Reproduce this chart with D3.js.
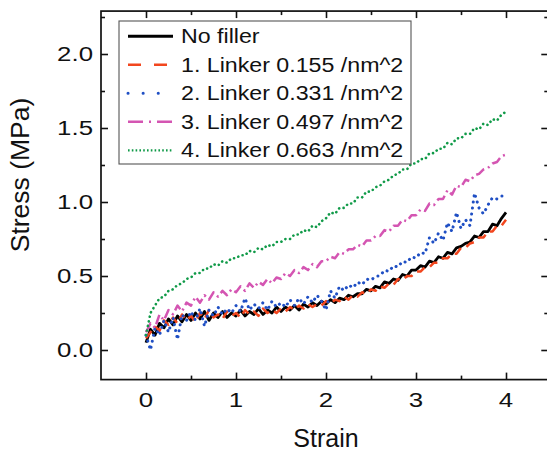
<!DOCTYPE html>
<html><head><meta charset="utf-8">
<script src="https://cdn.jsdelivr.net/npm/d3@7"></script>
<style>
body{margin:0;background:#fff}
svg{display:block}
text{font-family:"Liberation Sans",Arial,Helvetica,sans-serif;fill:#111}
</style>
</head><body>
<svg id="c" width="547" height="450"></svg>
<script>
// ---------------- data ----------------
const strain = [0.00,0.05,0.10,0.15,0.20,0.25,0.30,0.35,0.40,0.45,
  0.50,0.55,0.60,0.65,0.70,0.75,0.80,0.85,0.90,0.95,
  1.00,1.05,1.10,1.15,1.20,1.25,1.30,1.35,1.40,1.45,
  1.50,1.55,1.60,1.65,1.70,1.75,1.80,1.85,1.90,1.95,
  2.00,2.05,2.10,2.15,2.20,2.25,2.30,2.35,2.40,2.45,
  2.50,2.55,2.60,2.65,2.70,2.75,2.80,2.85,2.90,2.95,
  3.00,3.05,3.10,3.15,3.20,3.25,3.30,3.35,3.40,3.45,
  3.50,3.55,3.60,3.65,3.70,3.75,3.80,3.85,3.90,3.95,
  4.00];

const noFiller = [0.05,0.14,0.10,0.18,0.15,0.21,0.17,0.23,0.19,0.24,
  0.20,0.25,0.21,0.26,0.20,0.25,0.22,0.26,0.22,0.25,
  0.23,0.27,0.23,0.26,0.24,0.28,0.24,0.27,0.25,0.29,
  0.26,0.29,0.27,0.30,0.27,0.31,0.29,0.32,0.30,0.33,
  0.31,0.34,0.32,0.35,0.34,0.37,0.36,0.38,0.38,0.41,
  0.40,0.43,0.42,0.46,0.45,0.48,0.47,0.51,0.50,0.54,
  0.54,0.57,0.56,0.60,0.59,0.63,0.62,0.66,0.65,0.69,
  0.70,0.72,0.73,0.77,0.76,0.80,0.80,0.85,0.84,0.89,
  0.93];

const linker155 = [0.08,0.12,0.16,0.13,0.20,0.17,0.22,0.18,0.24,0.20,
  0.23,0.19,0.25,0.21,0.27,0.22,0.24,0.21,0.26,0.23,
  0.25,0.22,0.27,0.24,0.26,0.23,0.28,0.25,0.27,0.25,
  0.28,0.26,0.29,0.27,0.30,0.28,0.31,0.29,0.31,0.30,
  0.33,0.31,0.34,0.33,0.36,0.34,0.37,0.36,0.39,0.38,
  0.41,0.40,0.43,0.42,0.45,0.44,0.48,0.47,0.50,0.50,
  0.53,0.53,0.56,0.56,0.59,0.59,0.62,0.62,0.65,0.65,
  0.69,0.69,0.72,0.73,0.76,0.76,0.80,0.80,0.84,0.84,
  0.88];

const linker331 = [0.10,0.00,0.15,0.10,0.20,0.12,0.22,0.07,0.24,0.20,
  0.26,0.20,0.28,0.16,0.27,0.23,0.29,0.24,0.28,0.25,
  0.30,0.26,0.35,0.27,0.31,0.28,0.32,0.27,0.33,0.29,
  0.32,0.29,0.34,0.30,0.35,0.31,0.36,0.32,0.37,0.33,
  0.27,0.40,0.35,0.43,0.40,0.44,0.42,0.46,0.44,0.48,
  0.47,0.50,0.50,0.54,0.53,0.57,0.56,0.60,0.59,0.63,
  0.62,0.66,0.65,0.76,0.72,0.79,0.74,0.86,0.80,0.93,
  0.82,0.88,0.84,1.06,0.96,0.92,0.98,1.03,1.02,1.04,
  1.04];

const linker497 = [0.12,0.18,0.15,0.24,0.20,0.27,0.24,0.30,0.26,0.32,
  0.30,0.36,0.32,0.37,0.34,0.39,0.36,0.40,0.37,0.41,
  0.39,0.43,0.40,0.45,0.42,0.46,0.44,0.48,0.45,0.49,
  0.48,0.52,0.50,0.54,0.52,0.56,0.54,0.58,0.56,0.60,
  0.60,0.63,0.62,0.66,0.65,0.68,0.68,0.71,0.70,0.74,
  0.74,0.77,0.77,0.81,0.80,0.84,0.84,0.88,0.87,0.91,
  0.91,0.95,0.94,0.99,0.98,1.02,1.02,1.08,1.05,1.11,
  1.10,1.15,1.14,1.18,1.19,1.22,1.23,1.26,1.27,1.31,
  1.32];

const linker663 = [0.10,0.25,0.30,0.35,0.36,0.40,0.41,0.44,0.45,0.48,
  0.49,0.52,0.52,0.55,0.55,0.58,0.57,0.60,0.59,0.62,
  0.62,0.64,0.64,0.67,0.66,0.69,0.68,0.71,0.70,0.73,
  0.73,0.75,0.75,0.78,0.78,0.81,0.80,0.84,0.83,0.87,
  0.89,0.93,0.92,0.96,0.96,0.99,0.99,1.03,1.03,1.07,
  1.07,1.10,1.11,1.14,1.15,1.18,1.19,1.22,1.22,1.26,
  1.26,1.29,1.29,1.33,1.33,1.36,1.36,1.40,1.39,1.43,
  1.43,1.46,1.46,1.50,1.49,1.53,1.52,1.56,1.55,1.59,
  1.61];

const seriesNames = ["No filler","1. Linker 0.155 /nm^2","2. Linker 0.331 /nm^2","3. Linker 0.497 /nm^2","4. Linker 0.663 /nm^2"];
const seriesValues = [noFiller, linker155, linker331, linker497, linker663];

const xTicks = [0,1,2,3,4];
const xTickLabels = ["0","1","2","3","4"];
const xMinorTicks = [0.5,1.5,2.5,3.5];
const yTicks = [0.0,0.5,1.0,1.5,2.0];
const yTickLabels = ["0.0","0.5","1.0","1.5","2.0"];
const yMinorTicks = [0.25,0.75,1.25,1.75,2.25];

// ---------------- styles ----------------
const styles = [
  {color:"#000000", w:2.8, dash:null,            ldash:null,          cap:"butt",  lw:3,   lcap:"butt"},
  {color:"#f2461e", w:2.5, dash:"9,6",           ldash:"13,13",       cap:"butt",  lw:2.5, lcap:"butt"},
  {color:"#1f4fc4", w:3.0, dash:"0.1,6",         ldash:"0.1,15",      cap:"round", lw:3,   lcap:"round"},
  {color:"#d455b2", w:2.5, dash:"10,4,2,4",      ldash:"15,6,2,6",    cap:"butt",  lw:2.5, lcap:"butt"},
  {color:"#109a48", w:2.6, dash:"0.1,4.6",       ldash:"1.6,2.2",     cap:"round", lw:2.2, lcap:"butt"}
];

const svg = d3.select("#c");
const L = 101, R = 548.3, T = 11.08, B = 379.6;
const x = d3.scaleLinear().domain([-0.5, 4.47]).range([L, R]);
const y = d3.scaleLinear().domain([-0.2, 2.29]).range([B, T]);

svg.append("rect").attr("width",547).attr("height",450).attr("fill","#fff");

svg.append("defs").append("clipPath").attr("id","plotclip")
  .append("rect").attr("x",L).attr("y",T).attr("width",R-L).attr("height",B-T);

// ---------------- data lines ----------------
const line = d3.line().x(d=>x(d[0])).y(d=>y(d[1]));
const dataG = svg.append("g").attr("clip-path","url(#plotclip)");
seriesValues.forEach((vals,i)=>{
  const pts = strain.map((s,k)=>[s, vals[k]]);
  const st = styles[i];
  dataG.append("path").datum(pts)
    .attr("d", line)
    .attr("fill","none")
    .attr("stroke", st.color)
    .attr("stroke-width", st.w)
    .attr("stroke-linecap", st.cap)
    .attr("stroke-linejoin","round")
    .attr("stroke-dasharray", st.dash);
});

// ---------------- axes / ticks ----------------
function tickAxis(axisFn, scale, vals, size, transform){
  const g = svg.append("g").attr("transform", transform)
    .call(axisFn(scale).tickValues(vals).tickSize(size).tickFormat(""));
  g.select(".domain").remove();
  g.selectAll(".tick line").attr("stroke","#111").attr("stroke-width",1.6);
  return g;
}
tickAxis(d3.axisBottom, x, xTicks, -7, `translate(0,${B})`);
tickAxis(d3.axisBottom, x, xMinorTicks, -4, `translate(0,${B})`);
tickAxis(d3.axisTop, x, xTicks, -7, `translate(0,${T})`);
tickAxis(d3.axisTop, x, xMinorTicks, -4, `translate(0,${T})`);
tickAxis(d3.axisLeft, y, yTicks, -7, `translate(${L},0)`);
tickAxis(d3.axisLeft, y, yMinorTicks, -4, `translate(${L},0)`);
tickAxis(d3.axisRight, y, yTicks, -7, `translate(${R},0)`);
tickAxis(d3.axisRight, y, yMinorTicks, -4, `translate(${R},0)`);

svg.append("rect").attr("x",L).attr("y",T).attr("width",R-L).attr("height",B-T)
  .attr("fill","none").attr("stroke","#111").attr("stroke-width",1.7);

function stext(px, py, str, anchor, size, sx){
  return svg.append("text")
    .attr("transform",`translate(${px},${py}) scale(${sx},1)`)
    .attr("text-anchor",anchor)
    .attr("font-size",size)
    .text(str);
}

// tick labels
xTicks.forEach((v,i)=> stext(x(v), 406.5, xTickLabels[i], "middle", 20.5, 1.26));
yTicks.forEach((v,i)=> stext(93, y(v)+7.3, yTickLabels[i], "end", 20.5, 1.26));

// axis titles
svg.append("text").attr("x", x(2)).attr("y", 446.5).attr("text-anchor","middle")
  .attr("font-size",25).text("Strain");
svg.append("text").attr("transform",`translate(29.3,${(y(0)+y(2))/2 - 27}) rotate(-90)`)
  .attr("text-anchor","middle").attr("font-size",26.5).text("Stress (MPa)");

// ---------------- legend ----------------
const lg = svg.append("g");
lg.append("rect").attr("x",119).attr("y",21).attr("width",292).attr("height",143)
  .attr("fill","#fff").attr("stroke","#555").attr("stroke-width",1.1);
seriesNames.forEach((name,i)=>{
  const by = 43.3 + i*28.5;
  const st = styles[i];
  lg.append("line").attr("x1",128).attr("x2",173).attr("y1",by-7).attr("y2",by-7)
    .attr("stroke",st.color).attr("stroke-width", st.lw)
    .attr("stroke-linecap", st.lcap)
    .attr("stroke-dasharray", st.ldash);
  lg.append("text").attr("transform",`translate(181,${by}) scale(1.16,1)`)
    .attr("font-size",20).text(name);
});
</script>
</body></html>
